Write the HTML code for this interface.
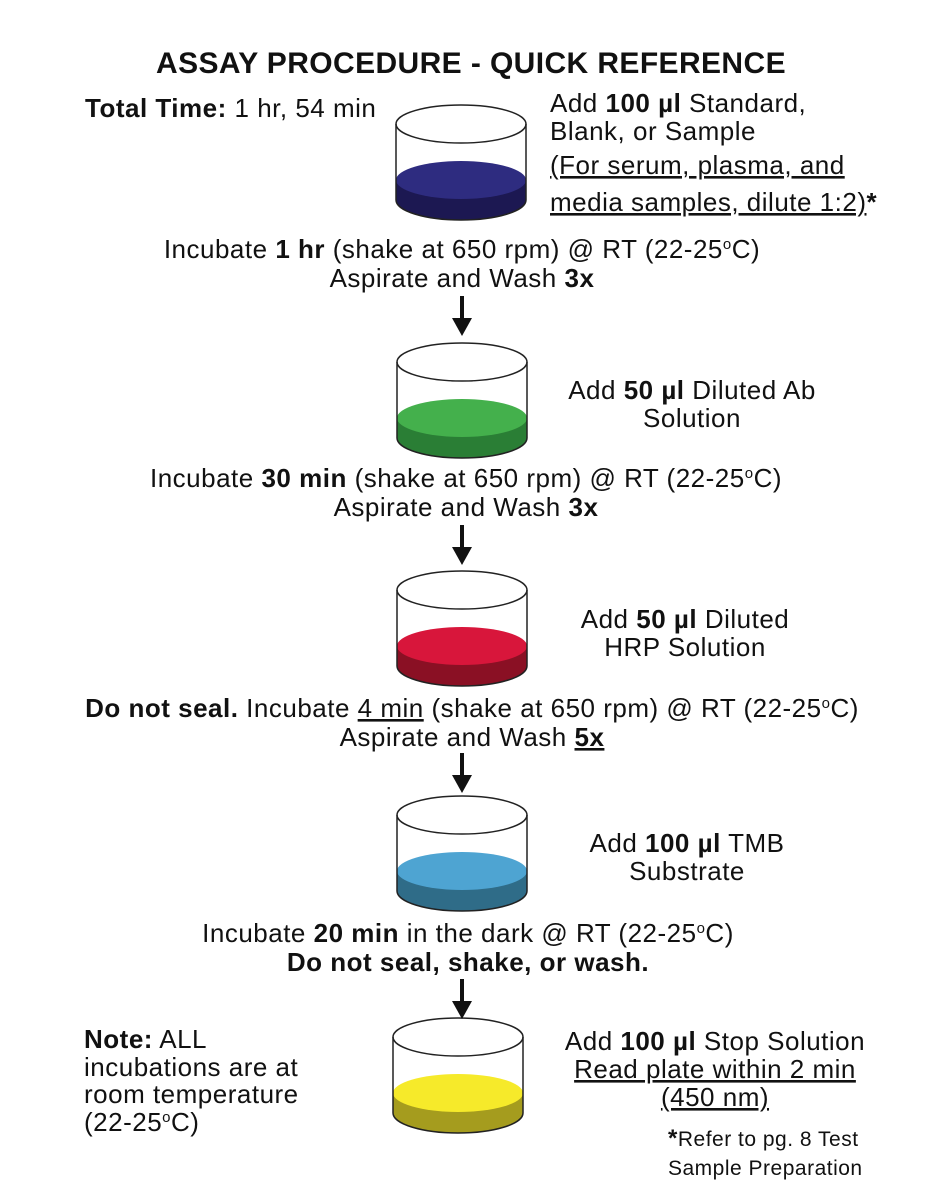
<!DOCTYPE html>
<html><head><meta charset="utf-8"><style>
body{margin:0;background:#fff}
svg{display:block;font-family:"Liberation Sans",Arial,sans-serif;font-size:26px;letter-spacing:0.5px;fill:#111}
.b{font-weight:bold}
</style></head><body>
<svg width="950" height="1200" viewBox="0 0 950 1200">
<defs>
<g id="arrow"><line x1="0" y1="0" x2="0" y2="30" stroke="#111" stroke-width="4"/><polygon points="-10,22 10,22 0,40" fill="#111"/></g>
</defs>
<text x="471" y="73" text-anchor="middle" class="b" font-size="30" style="letter-spacing:0.4px">ASSAY PROCEDURE - QUICK REFERENCE</text>
<text x="85" y="117"><tspan class="b">Total Time:</tspan> 1 hr, 54 min</text>
<text x="550" y="112">Add <tspan class="b">100 µl</tspan> Standard,</text>
<text x="550" y="140">Blank, or Sample</text>
<text x="550" y="174" text-decoration="underline">(For serum, plasma, and </text>
<text x="550" y="211"><tspan text-decoration="underline">media samples, dilute 1:2)</tspan><tspan class="b">*</tspan></text>

<g transform="translate(461,124)">
<path d="M-65,56 L-65,76 A65,20 0 0 0 65,76 L65,56 Z" fill="#1c1852"/>
<ellipse cx="0" cy="56" rx="65" ry="19" fill="#2e2c80"/>
<path d="M-65,0 L-65,76 A65,20 0 0 0 65,76 L65,0" fill="none" stroke="#222" stroke-width="1.5"/>
<ellipse cx="0" cy="0" rx="65" ry="19" fill="none" stroke="#222" stroke-width="1.5"/>
</g>
<g transform="translate(462,362)">
<path d="M-65,56 L-65,76 A65,20 0 0 0 65,76 L65,56 Z" fill="#2a7e35"/>
<ellipse cx="0" cy="56" rx="65" ry="19" fill="#44b04c"/>
<path d="M-65,0 L-65,76 A65,20 0 0 0 65,76 L65,0" fill="none" stroke="#222" stroke-width="1.5"/>
<ellipse cx="0" cy="0" rx="65" ry="19" fill="none" stroke="#222" stroke-width="1.5"/>
</g>
<g transform="translate(462,590)">
<path d="M-65,56 L-65,76 A65,20 0 0 0 65,76 L65,56 Z" fill="#8a1024"/>
<ellipse cx="0" cy="56" rx="65" ry="19" fill="#d8163b"/>
<path d="M-65,0 L-65,76 A65,20 0 0 0 65,76 L65,0" fill="none" stroke="#222" stroke-width="1.5"/>
<ellipse cx="0" cy="0" rx="65" ry="19" fill="none" stroke="#222" stroke-width="1.5"/>
</g>
<g transform="translate(462,815)">
<path d="M-65,56 L-65,76 A65,20 0 0 0 65,76 L65,56 Z" fill="#2f6c88"/>
<ellipse cx="0" cy="56" rx="65" ry="19" fill="#4ea4d2"/>
<path d="M-65,0 L-65,76 A65,20 0 0 0 65,76 L65,0" fill="none" stroke="#222" stroke-width="1.5"/>
<ellipse cx="0" cy="0" rx="65" ry="19" fill="none" stroke="#222" stroke-width="1.5"/>
</g>
<g transform="translate(458,1037)">
<path d="M-65,56 L-65,76 A65,20 0 0 0 65,76 L65,56 Z" fill="#a59c1e"/>
<ellipse cx="0" cy="56" rx="65" ry="19" fill="#f6ea2a"/>
<path d="M-65,0 L-65,76 A65,20 0 0 0 65,76 L65,0" fill="none" stroke="#222" stroke-width="1.5"/>
<ellipse cx="0" cy="0" rx="65" ry="19" fill="none" stroke="#222" stroke-width="1.5"/>
</g>

<text x="462" y="258" text-anchor="middle">Incubate <tspan class="b">1 hr</tspan> (shake at 650 rpm) @ RT (22-25<tspan font-size="15" dy="-9">o</tspan><tspan dy="9">C)</tspan></text>
<text x="462" y="287" text-anchor="middle">Aspirate and Wash <tspan class="b">3x</tspan></text>
<use href="#arrow" x="462" y="296"/>

<text x="692" y="399" text-anchor="middle">Add <tspan class="b">50 µl</tspan> Diluted Ab</text>
<text x="692" y="427" text-anchor="middle">Solution</text>
<text x="466" y="487" text-anchor="middle">Incubate <tspan class="b">30 min</tspan> (shake at 650 rpm) @ RT (22-25<tspan font-size="15" dy="-9">o</tspan><tspan dy="9">C)</tspan></text>
<text x="466" y="516" text-anchor="middle">Aspirate and Wash <tspan class="b">3x</tspan></text>
<use href="#arrow" x="462" y="525"/>

<text x="685" y="628" text-anchor="middle">Add <tspan class="b">50 µl</tspan> Diluted</text>
<text x="685" y="656" text-anchor="middle">HRP Solution</text>
<text x="472" y="717" text-anchor="middle"><tspan class="b">Do not seal.</tspan> Incubate <tspan text-decoration="underline">4 min</tspan> (shake at 650 rpm) @ RT (22-25<tspan font-size="15" dy="-9">o</tspan><tspan dy="9">C)</tspan></text>
<text x="472" y="746" text-anchor="middle">Aspirate and Wash <tspan class="b" text-decoration="underline">5x</tspan></text>
<use href="#arrow" x="462" y="753"/>

<text x="687" y="852" text-anchor="middle">Add <tspan class="b">100 µl</tspan> TMB</text>
<text x="687" y="880" text-anchor="middle">Substrate</text>
<text x="468" y="942" text-anchor="middle">Incubate <tspan class="b">20 min</tspan> in the dark @ RT (22-25<tspan font-size="15" dy="-9">o</tspan><tspan dy="9">C)</tspan></text>
<text x="468" y="971" text-anchor="middle" class="b">Do not seal, shake, or wash.</text>
<use href="#arrow" x="462" y="979"/>

<text x="84" y="1048"><tspan class="b">Note:</tspan> ALL</text>
<text x="84" y="1076">incubations are at</text>
<text x="84" y="1103">room temperature</text>
<text x="84" y="1131">(22-25<tspan font-size="15" dy="-9">o</tspan><tspan dy="9">C)</tspan></text>

<text x="715" y="1050" text-anchor="middle">Add <tspan class="b">100 µl</tspan> Stop Solution</text>
<text x="715" y="1078" text-anchor="middle" text-decoration="underline">Read plate within 2 min </text>
<text x="715" y="1106" text-anchor="middle" text-decoration="underline">(450 nm)</text>
<text x="668" y="1146" font-size="21"><tspan class="b" font-size="24">*</tspan>Refer to pg. 8 Test</text>
<text x="668" y="1175" font-size="21">Sample Preparation</text>
</svg>
</body></html>
